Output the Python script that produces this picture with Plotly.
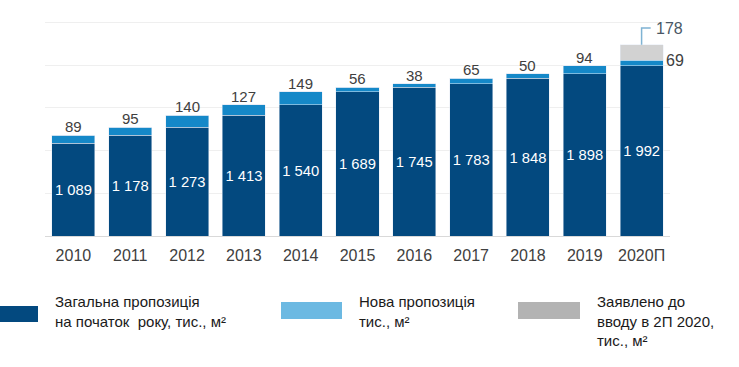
import plotly.graph_objects as go

years = ["2010", "2011", "2012", "2013", "2014", "2015", "2016", "2017", "2018", "2019", "2020П"]
base_supply = [1089, 1178, 1273, 1413, 1540, 1689, 1745, 1783, 1848, 1898, 1992]
new_supply = [89, 95, 140, 127, 149, 56, 38, 65, 50, 94, 69]
declared = [0, 0, 0, 0, 0, 0, 0, 0, 0, 0, 178]
legend_labels = [
    "Загальна пропозиція<br>на початок  року, тис., м²",
    "Нова пропозиція<br>тис., м²",
    "Заявлено до<br>вводу в 2П 2020,<br>тис., м²",
]

DARK = "#03497f"
MID = "#1588c8"
LIGHT_LEG = "#6cb9e2"
GREY = "#d2d2d2"
GREY_LEG = "#b3b3b3"
FONT = "Liberation Sans, Arial, sans-serif"
TXT = "#404040"

idx = list(range(len(years)))
bw = 0.757

fig = go.Figure()
fig.add_bar(x=idx, y=base_supply, marker_color=DARK, width=bw,
            text=[f"{v:,}".replace(",", " ") for v in base_supply],
            textposition="inside", insidetextanchor="middle", textangle=0,
            textfont=dict(color="white", size=15, family=FONT),
            hoverinfo="skip")
fig.add_bar(x=idx, y=new_supply, marker_color=MID, width=bw, hoverinfo="skip")
fig.add_bar(x=idx, y=declared, marker_color=GREY, width=bw, hoverinfo="skip")

annotations = []
totals = [b + n for b, n in zip(base_supply, new_supply)]
for i in idx[:-1]:
    annotations.append(dict(x=i, y=totals[i], xref="x", yref="y", text=str(new_supply[i]),
                            showarrow=False, yanchor="bottom", yshift=-2,
                            font=dict(size=15, color=TXT, family=FONT)))
last = idx[-1]
annotations.append(dict(x=last, y=totals[last], xref="x", yref="y", text=str(new_supply[last]),
                        showarrow=False, xanchor="left", yanchor="middle", xshift=22,
                        font=dict(size=16, color=TXT, family=FONT)))
top_last = totals[last] + declared[last]
leader_y = top_last + 196
annotations.append(dict(x=last + 0.16, y=leader_y, xref="x", yref="y", text=str(declared[last]),
                        showarrow=False, xanchor="left", yanchor="middle", xshift=3,
                        font=dict(size=16, color="#4a5866", family=FONT)))

shapes = [dict(type="path", xref="x", yref="y",
               path=f"M {last},{top_last} L {last},{leader_y} L {last + 0.16},{leader_y}",
               line=dict(color="#7fb3d3", width=1.5))]

# custom legend (pixel -> paper)
L, R, T, B = 45, 69, 20, 131
W, H = 739 - L - R, 367 - T - B
def px(x):
    return (x - L) / W
def py(y):
    return (367 - B - y) / H

leg = [((0, 38, 306, 322), DARK, 53, legend_labels[0]),
       ((281, 342, 302, 319), LIGHT_LEG, 357, legend_labels[1]),
       ((518, 580, 302, 319), GREY_LEG, 595, legend_labels[2])]
for (x0, x1, y0, y1), col, tx, lab in leg:
    shapes.append(dict(type="rect", xref="paper", yref="paper",
                       x0=px(x0), x1=px(x1), y0=py(y1), y1=py(y0),
                       fillcolor=col, line=dict(width=0)))
    annotations.append(dict(x=px(tx), y=py(291), xref="paper", yref="paper", text=lab,
                            showarrow=False, xanchor="left", yanchor="top", align="left",
                            font=dict(size=15, color="#1a1a1a", family=FONT)))

fig.update_layout(
    barmode="stack",
    width=739, height=367,
    margin=dict(l=L, r=R, t=T, b=B),
    plot_bgcolor="white", paper_bgcolor="white",
    showlegend=False,
    annotations=annotations,
    shapes=shapes,
    font=dict(family=FONT, color=TXT),
)
fig.update_xaxes(tickvals=idx, ticktext=years, range=[-0.5, len(years) - 0.5],
                 showgrid=False, zeroline=False, showline=True, linecolor="#d9d9d9",
                 linewidth=1, ticks="", ticklabelstandoff=5,
                 tickfont=dict(size=16, color=TXT, family=FONT))
fig.update_yaxes(range=[0, 2530], dtick=500, showgrid=True, gridcolor="#efefef",
                 zeroline=False, showticklabels=False, ticks="")

fig.write_html("out.html", config={"displayModeBar": False, "staticPlot": True},
               post_script="document.body.style.margin='0';document.body.style.overflow='hidden';")
